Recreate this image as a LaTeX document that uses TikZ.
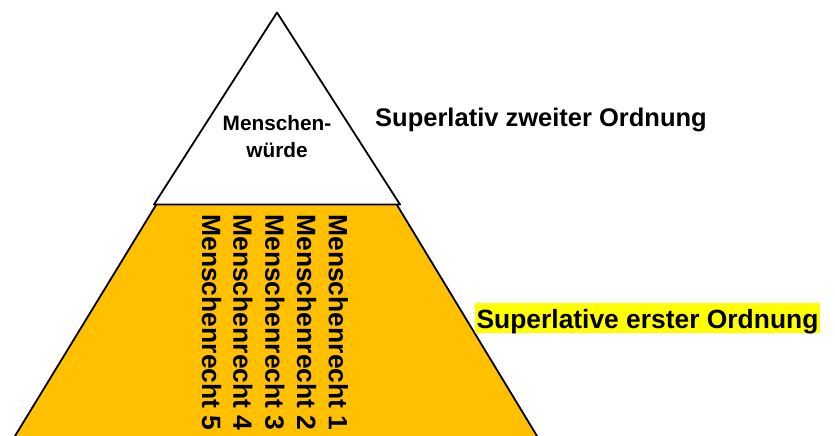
\documentclass[tikz,border=0pt]{standalone}
\usepackage{fontspec}
\setmainfont{Liberation Sans}
\usetikzlibrary{calc}
\definecolor{pyrorange}{HTML}{FFC000}
\definecolor{hiyellow}{HTML}{FFFF00}
\tikzset{
  edge/.style={line width=1.8pt, line join=round},
  colrecht/.style={rotate=-90, inner sep=0pt, font=\fontsize{26.5}{30}\selectfont\bfseries},
  bigtext/.style={inner sep=0pt, anchor=base, font=\fontsize{25.5}{30}\selectfont\bfseries},
}
\begin{document}
\begin{tikzpicture}[x=1pt,y=-1pt]
\useasboundingbox (0,0) rectangle (835,436);
% coordinates
\coordinate (apex) at (277,12.5);
\coordinate (wl) at (154,204.5);
\coordinate (wr) at (400,204.5);
\coordinate (otl) at (156,205);
\coordinate (otr) at (397,205);
\coordinate (obl) at (15,436);
\coordinate (obr) at (537,436);
\coordinate (oblx) at ($(otl)!1.05!(obl)$);
\coordinate (obrx) at ($(otr)!1.05!(obr)$);
% lower band
\fill[pyrorange] (otl) -- (otr) -- (obrx) -- (oblx) -- cycle;
\draw[edge] (otl) -- (oblx);
\draw[edge] (otr) -- (obrx);
% top triangle
\draw[edge, fill=white] (apex) -- (wr) -- (wl) -- cycle;
% texts
\node[align=center, inner sep=0pt, font=\fontsize{20.8}{27}\selectfont\bfseries] (mw) at (277,137) {Menschen-\\würde};
\node[colrecht] (r5) at (211.7,322.5) {Menschenrecht 5};
\node[colrecht] (r4) at (242.9,322.5) {Menschenrecht 4};
\node[colrecht] (r3) at (274.9,322.5) {Menschenrecht 3};
\node[colrecht] (r2) at (306.6,322.5) {Menschenrecht 2};
\node[colrecht] (r1) at (338.3,322.5) {Menschenrecht 1};
\node[bigtext] (s2) at (541,126) {Superlativ zweiter Ordnung};
\node[bigtext, fill=hiyellow, inner xsep=2pt, text height=25pt, text depth=5pt, font=\fontsize{26.4}{30}\selectfont\bfseries] (s1) at (647.5,328.3) {Superlative erster Ordnung};
\end{tikzpicture}
\end{document}
